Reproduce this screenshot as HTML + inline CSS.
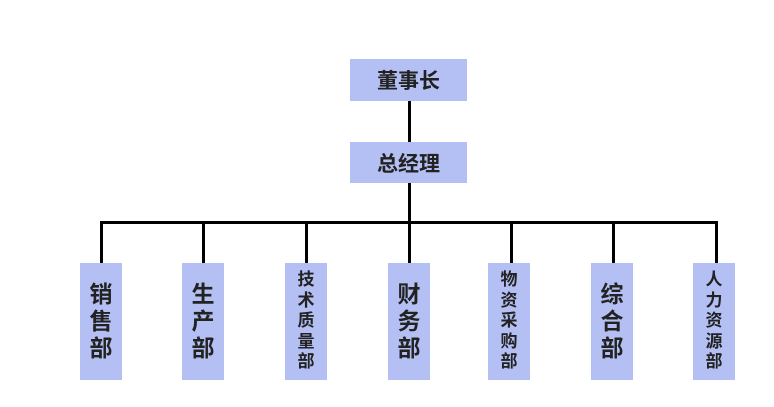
<!DOCTYPE html>
<html><head><meta charset="utf-8"><style>
body{margin:0;background:#fff;}
#c{position:relative;width:774px;height:407px;overflow:hidden;font-family:"Liberation Sans","Noto Sans CJK SC",sans-serif;color:#222;font-weight:bold;}
.b{position:absolute;background:#b4c0f4;display:flex;align-items:center;justify-content:center;}
.h{font-size:21px;}
.v{flex-direction:column;width:42px;top:263px;height:117px;}
.v span{display:block;text-align:center;}
.v3 span{font-size:23px;line-height:27px;}
.v5 span{font-size:17px;line-height:20.5px;}
.l{position:absolute;background:#000;}
</style></head><body><div id="c">
<div class="b h" style="left:350px;top:59px;width:117px;height:42px;">董事长</div>
<div class="b h" style="left:350px;top:142px;width:117px;height:41px;">总经理</div>
<div class="l" style="left:408px;top:101px;width:3px;height:41px;"></div>
<div class="l" style="left:408px;top:183px;width:3px;height:39px;"></div>
<div class="l" style="left:100px;top:221px;width:618px;height:3px;"></div>
<div class="l" style="left:100px;top:221px;width:3px;height:42px;"></div>
<div class="l" style="left:202px;top:221px;width:3px;height:42px;"></div>
<div class="l" style="left:305px;top:221px;width:3px;height:42px;"></div>
<div class="l" style="left:408px;top:221px;width:3px;height:42px;"></div>
<div class="l" style="left:510px;top:221px;width:3px;height:42px;"></div>
<div class="l" style="left:612px;top:221px;width:3px;height:42px;"></div>
<div class="l" style="left:715px;top:221px;width:3px;height:42px;"></div>
<div class="b v v3" style="left:80px;"><span>销</span><span>售</span><span>部</span></div>
<div class="b v v3" style="left:182px;"><span>生</span><span>产</span><span>部</span></div>
<div class="b v v5" style="left:285px;"><span>技</span><span>术</span><span>质</span><span>量</span><span>部</span></div>
<div class="b v v3" style="left:388px;"><span>财</span><span>务</span><span>部</span></div>
<div class="b v v5" style="left:488px;"><span>物</span><span>资</span><span>采</span><span>购</span><span>部</span></div>
<div class="b v v3" style="left:591px;"><span>综</span><span>合</span><span>部</span></div>
<div class="b v v5" style="left:693px;"><span>人</span><span>力</span><span>资</span><span>源</span><span>部</span></div>
</div></body></html>
